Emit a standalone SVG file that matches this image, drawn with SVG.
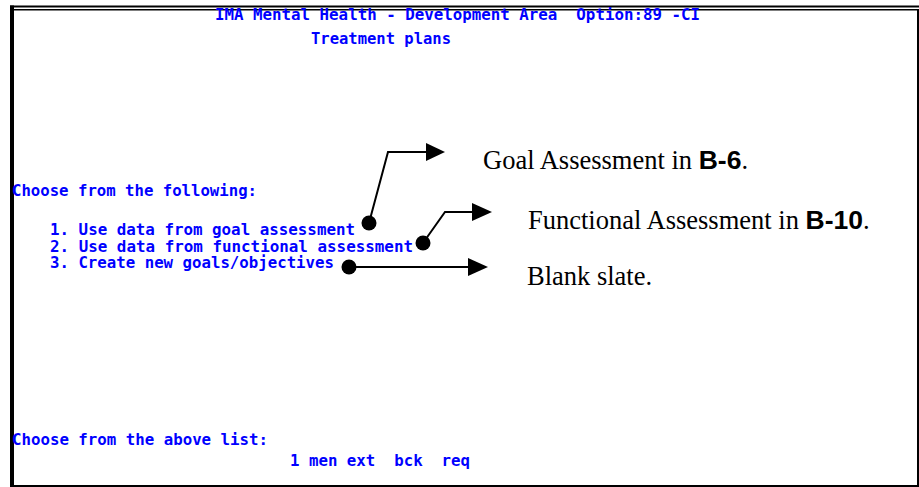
<svg xmlns="http://www.w3.org/2000/svg" width="919" height="487" viewBox="0 0 919 487">
<style>
.term{font-family:"DejaVu Sans Mono","Liberation Mono",monospace;font-weight:bold;font-size:15px;fill:#0000ff;white-space:pre}
.lbl{font-family:"Liberation Serif","Times New Roman",serif;font-size:26.5px;fill:#000}
.b{font-family:"Liberation Sans",Arial,sans-serif;font-weight:bold}
.con{fill:none;stroke:#000;stroke-width:2}
</style>
<rect width="919" height="487" fill="#fff"/>
<g id="frame" fill="#000">
<rect x="10" y="5.5" width="909" height="2"/>
<rect x="10" y="5.5" width="4" height="481.5"/>
<rect x="14" y="9" width="904.5" height="1.5"/>
<rect x="917" y="9" width="2" height="478"/>
<rect x="10" y="485" width="909" height="2"/>
</g>
<g id="screen">
<text class="term" xml:space="preserve" x="215" y="20" textLength="485" lengthAdjust="spacingAndGlyphs">IMA Mental Health - Development Area  Option:89 -CI</text>
<text class="term" x="311" y="44" textLength="140" lengthAdjust="spacingAndGlyphs">Treatment plans</text>
<text class="term" x="12" y="196" textLength="245" lengthAdjust="spacingAndGlyphs">Choose from the following:</text>
<text class="term" x="50" y="235" textLength="305" lengthAdjust="spacingAndGlyphs">1. Use data from goal assessment</text>
<text class="term" x="50" y="251.5" textLength="363" lengthAdjust="spacingAndGlyphs">2. Use data from functional assessment</text>
<text class="term" x="50" y="268" textLength="284" lengthAdjust="spacingAndGlyphs">3. Create new goals/objectives</text>
<text class="term" x="12" y="445" textLength="256" lengthAdjust="spacingAndGlyphs">Choose from the above list:</text>
<text class="term" xml:space="preserve" x="290" y="466" textLength="180" lengthAdjust="spacingAndGlyphs">1 men ext  bck  req</text>
</g>
<g id="connectors">
<polyline class="con" points="369,223 388,152 428,152"/>
<polygon points="426,143 445,152 426,161" fill="#000"/>
<circle cx="369" cy="223" r="7.5" fill="#000"/>
<polyline class="con" points="423,243 445,212 474,212"/>
<polygon points="472,203 492,212 472,221" fill="#000"/>
<circle cx="423" cy="243" r="7.5" fill="#000"/>
<polyline class="con" points="349,267 470,267"/>
<polygon points="468,258 488,267 468,276" fill="#000"/>
<circle cx="349" cy="267" r="7.5" fill="#000"/>
</g>
<g id="label-goal"><text class="lbl" x="483" y="169">Goal Assessment in <tspan class="b">B-6</tspan>.</text></g>
<g id="label-functional"><text class="lbl" x="528" y="229">Functional Assessment in <tspan class="b">B-10</tspan>.</text></g>
<g id="label-blank"><text class="lbl" x="527" y="285">Blank slate.</text></g>
</svg>
